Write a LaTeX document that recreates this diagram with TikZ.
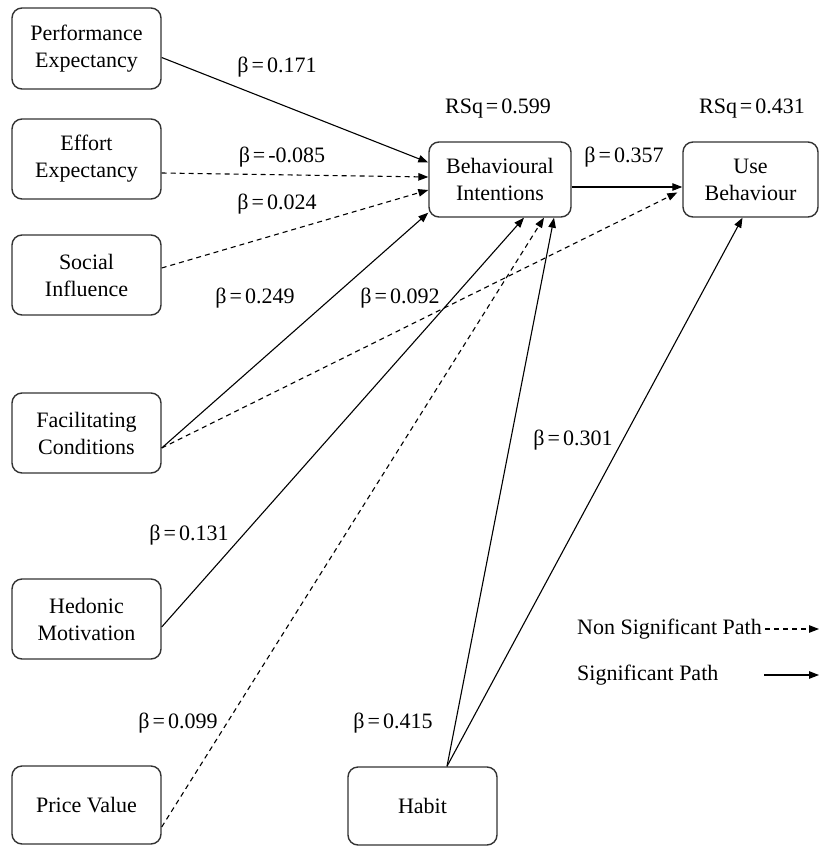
\documentclass[tikz,border=0pt]{standalone}
\usepackage{fontspec}
\setmainfont{Liberation Serif}
\usetikzlibrary{arrows.meta}
\newcommand{\eqsp}{\hspace{3pt}=\hspace{3pt}}
\begin{document}
\begin{tikzpicture}[x=1pt,y=-1pt,
  box/.style={draw=black!80,line width=1.4pt,rounded corners=10pt,align=center,
    inner sep=0pt,font=\fontsize{22}{27}\selectfont},
  lbl/.style={font=\fontsize{22}{27}\selectfont,inner sep=0pt},
  sig/.style={line width=1.1pt,-{Triangle[length=10pt,width=7.5pt]}},
  nsig/.style={line width=1.1pt,dash pattern=on 5pt off 4pt,-{Triangle[length=10pt,width=7.5pt]}}]
\useasboundingbox (0,0) rectangle (819,846);
% boxes
\node[box,minimum width=149pt,minimum height=81pt] (PE) at (86.5,48.5) {Performance\\Expectancy};
\node[box,minimum width=149pt,minimum height=80pt] (EE) at (86.5,159) {Effort\\Expectancy};
\node[box,minimum width=149pt,minimum height=80pt] (SI) at (86.5,275) {Social\\Influence};
\node[box,minimum width=149pt,minimum height=80pt] (FC) at (86.5,433) {Facilitating\\Conditions};
\node[box,minimum width=149pt,minimum height=80pt] (HM) at (86.5,619) {Hedonic\\Motivation};
\node[box,minimum width=149pt,minimum height=78pt] (PV) at (86.5,805) {Price Value};
\node[box,minimum width=149pt,minimum height=78pt] (HB) at (422.5,806) {Habit};
\node[box,minimum width=142pt,minimum height=75pt] (BI) at (500,179.5) {Behavioural\\Intentions};
\node[box,minimum width=135pt,minimum height=75pt] (UB) at (750.5,179.5) {Use\\Behaviour};
% connectors
\draw[sig]  ([yshift=-9pt]PE.east) -- ([yshift=17pt]BI.west);
\draw[nsig] ([yshift=-14pt]EE.east) -- ([yshift=2.5pt]BI.west);
\draw[nsig] ([yshift=7pt]SI.east) -- ([yshift=-10.5pt]BI.west);
\draw[sig]  ([yshift=-15pt]FC.east) -- ([yshift=5pt]BI.south west);
\draw[nsig] ([yshift=-15pt]FC.east) -- ([xshift=-5pt,yshift=-13pt]UB.west);
\draw[sig]  ([yshift=-8pt]HM.east) -- ([xshift=24pt]BI.south);
\draw[nsig] ([yshift=-22pt]PV.east) -- ([xshift=44pt]BI.south);
\draw[sig]  ([xshift=24.5pt]HB.north) -- ([xshift=54pt]BI.south);
\draw[sig]  ([xshift=24.5pt]HB.north) -- ([xshift=-8pt]UB.south);
\draw[sig]  ([yshift=-7.5pt]BI.east) -- ([yshift=-7.5pt]UB.west);
% labels
\node[lbl] (l1) at (277,67) {β\eqsp 0.171};
\node[lbl] (l2) at (282,157) {β\eqsp -0.085};
\node[lbl] (l3) at (277,204) {β\eqsp 0.024};
\node[lbl] (l4) at (255,298) {β\eqsp 0.249};
\node[lbl] (l5) at (400,298) {β\eqsp 0.092};
\node[lbl] (l6) at (189,535) {β\eqsp 0.131};
\node[lbl] (l7) at (178,723) {β\eqsp 0.099};
\node[lbl] (l8) at (393,723) {β\eqsp 0.415};
\node[lbl] (l9) at (573,440) {β\eqsp 0.301};
\node[lbl] (l10) at (624,157) {β\eqsp 0.357};
\node[lbl] (r1) at (498,109) {RSq\eqsp 0.599};
\node[lbl] (r2) at (752,109) {RSq\eqsp 0.431};
% legend
\node[lbl,anchor=west] (ln) at (577,629) {Non Significant Path};
\node[lbl,anchor=west] (ls) at (577,675) {Significant Path};
\coordinate (ln1) at (765,629);
\coordinate (ln2) at (819,629);
\coordinate (ls1) at (764,675);
\coordinate (ls2) at (819,675);
\draw[nsig] (ln1) -- (ln2);
\draw[sig] (ls1) -- (ls2);
\end{tikzpicture}
\end{document}
